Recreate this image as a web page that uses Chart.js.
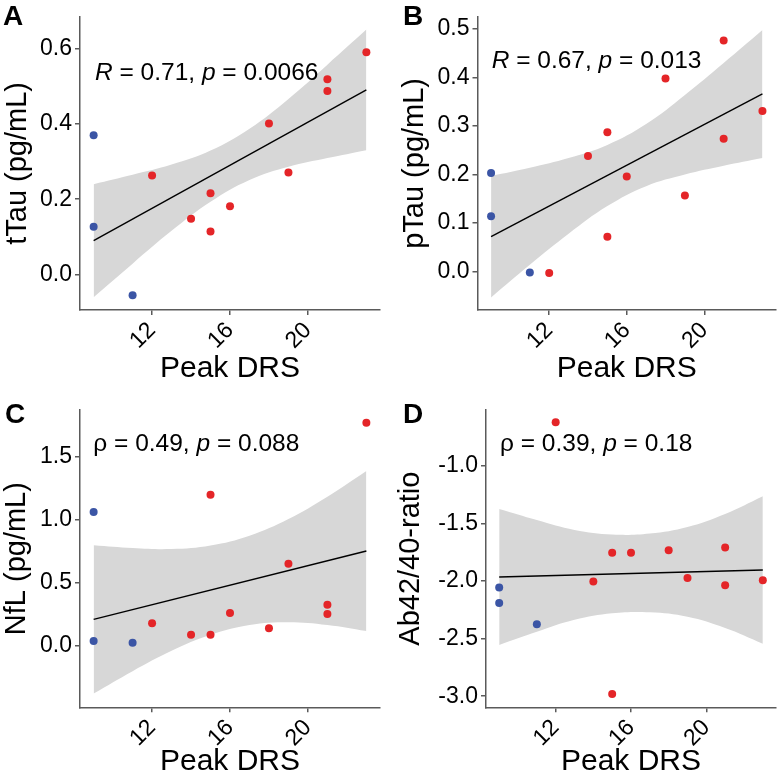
<!DOCTYPE html>
<html>
<head>
<meta charset="utf-8">
<title>Peak DRS correlations</title>
<script src="https://cdn.jsdelivr.net/npm/chart.js@4.4.1/dist/chart.umd.min.js"></script>
<style>
  html, body { margin: 0; padding: 0; background: #fff; }
  .panel { position: absolute; width: 390px; }
</style>
</head>
<body>
<div class="panel" style="left:0;top:0;height:390px"><canvas id="chartA"></canvas></div>
<div class="panel" style="left:390px;top:0;height:390px"><canvas id="chartB"></canvas></div>
<div class="panel" style="left:0;top:390px;height:393px"><canvas id="chartC"></canvas></div>
<div class="panel" style="left:390px;top:390px;height:393px"><canvas id="chartD"></canvas></div>
<script>
// peak DRS per subject, same for all four panels
const drs = [9, 9, 11, 12, 14, 15, 15, 16, 18, 19, 21, 21, 23];
const groups = ['ctrl', 'ctrl', 'ctrl', 'case', 'case', 'case', 'case', 'case', 'case', 'case', 'case', 'case', 'case'];
const drsTicks = [12, 16, 20];
const xRange = [8.3, 23.7];

// biomarker values
const tTau = [0.370, 0.127, -0.055, 0.263, 0.148, 0.216, 0.114, 0.181, 0.401, 0.271, 0.518, 0.487, 0.590];
const pTau = [0.203, 0.114, -0.002, -0.003, 0.238, 0.287, 0.072, 0.196, 0.398, 0.157, 0.476, 0.274, 0.331];
const nfl = [1.063, 0.037, 0.024, 0.178, 0.087, 1.200, 0.087, 0.260, 0.138, 0.652, 0.326, 0.252, 1.773];
const abRatio = [-2.056, -2.190, -2.375, -0.621, -2.004, -1.753, -2.980, -1.753, -1.732, -1.973, -1.709, -2.036, -1.993];

// fitted line ends and confidence band edges
const fitX = [9, 23];
const tTauFit = [0.090, 0.490];
const pTauFit = [0.072, 0.366];
const nflFit = [0.209, 0.753];
const abFit = [-1.964, -1.903];

const bandX = [9, 11, 13, 15, 17, 19, 21, 23];
const tTauUpper = [0.240, 0.265, 0.292, 0.329, 0.387, 0.466, 0.557, 0.650];
const tTauLower = [-0.060, 0.029, 0.116, 0.193, 0.251, 0.286, 0.309, 0.330];
const pTauUpper = [0.197, 0.214, 0.234, 0.261, 0.304, 0.364, 0.430, 0.498];
const pTauLower = [-0.053, 0.014, 0.078, 0.135, 0.176, 0.200, 0.218, 0.234];
const nflUpper = [0.799, 0.777, 0.769, 0.797, 0.875, 1.007, 1.185, 1.389];
const nflLower = [-0.381, -0.203, -0.041, 0.087, 0.165, 0.187, 0.165, 0.117];
const abUpper = [-1.374, -1.470, -1.556, -1.596, -1.587, -1.530, -1.417, -1.263];
const abLower = [-2.554, -2.440, -2.336, -2.280, -2.271, -2.310, -2.407, -2.543];

// y tick labels
const tTauTicks = [0.0, 0.2, 0.4, 0.6];
const pTauTicks = [0.0, 0.1, 0.2, 0.3, 0.4, 0.5];
const nflTicks = [0.0, 0.5, 1.0, 1.5];
const abTicks = [-3.0, -2.5, -2.0, -1.5, -1.0];

const blue = '#3B55A5';
const red = '#E42528';
const bandColor = '#D7D7D7';
const axisColor = '#5A5A5A';
const fontFamily = '"Liberation Sans", Arial, Helvetica, sans-serif';

Chart.defaults.font.family = fontFamily;
Chart.defaults.color = '#000';

// panel letter + correlation text
const panelText = {
    id: 'panelText',
    afterDraw(chart, args, opts) {
        const ctx = chart.ctx;
        const area = chart.chartArea;
        ctx.save();
        ctx.fillStyle = '#000';
        ctx.textBaseline = 'alphabetic';
        ctx.textAlign = 'left';
        ctx.font = 'bold 28px ' + fontFamily;
        ctx.fillText(opts.letter, opts.letterPos[0], opts.letterPos[1]);
        let x = area.left + opts.textPos[0];
        const y = area.top + opts.textPos[1];
        opts.parts.forEach(part => {
            ctx.font = (part.italic ? 'italic ' : '') + '24.5px ' + fontFamily;
            ctx.fillText(part.text, x, y);
            x += ctx.measureText(part.text).width;
        });
        ctx.restore();
    }
};

function toPoints(xs, ys) {
    return xs.map((x, i) => ({ x: x, y: ys[i] }));
}

function buildPanel(canvasId, p) {
    return new Chart(document.getElementById(canvasId), {
        type: 'scatter',
        data: {
            datasets: [
                {
                    data: toPoints(drs, p.values),
                    pointRadius: 4,
                    pointBorderWidth: 0,
                    pointBackgroundColor: groups.map(g => g === 'ctrl' ? blue : red),
                    order: 0
                },
                {
                    data: toPoints(fitX, p.fit),
                    showLine: true,
                    borderColor: '#000',
                    borderWidth: 1.4,
                    pointRadius: 0,
                    order: 1
                },
                {
                    data: toPoints(bandX, p.upper),
                    showLine: true,
                    borderWidth: 0,
                    borderColor: 'rgba(0,0,0,0)',
                    pointRadius: 0,
                    tension: 0.4,
                    fill: '+1',
                    backgroundColor: bandColor,
                    order: 2
                },
                {
                    data: toPoints(bandX, p.lower),
                    showLine: true,
                    borderWidth: 0,
                    borderColor: 'rgba(0,0,0,0)',
                    pointRadius: 0,
                    tension: 0.4,
                    fill: false,
                    order: 3
                }
            ]
        },
        options: {
            responsive: true,
            maintainAspectRatio: false,
            animation: false,
            events: [],
            layout: { padding: { left: 0, right: p.padRight, top: p.padTop, bottom: 0 } },
            plugins: {
                legend: { display: false },
                tooltip: { enabled: false },
                panelText: { letter: p.letter, letterPos: p.letterPos, textPos: p.textPos, parts: p.parts }
            },
            scales: {
                x: {
                    type: 'linear',
                    min: xRange[0],
                    max: xRange[1],
                    afterBuildTicks: s => { s.ticks = drsTicks.map(v => ({ value: v })); },
                    afterFit: s => { s.height = p.xHeight; },
                    grid: { drawOnChartArea: false, drawTicks: true, tickLength: 5, color: axisColor, lineWidth: 1.5 },
                    border: { display: true, color: axisColor, width: 1.5 },
                    ticks: {
                        autoSkip: false, minRotation: 45, maxRotation: 45, padding: 2,
                        color: '#000', font: { size: 23 },
                        callback: v => String(v)
                    },
                    title: { display: true, text: 'Peak DRS', color: '#000', font: { size: 30 }, padding: { top: 0, bottom: 3 } }
                },
                y: {
                    type: 'linear',
                    min: p.yRange[0],
                    max: p.yRange[1],
                    afterBuildTicks: s => { s.ticks = p.yTicks.map(v => ({ value: v })); },
                    afterFit: s => { s.width = p.yWidth; },
                    grid: { drawOnChartArea: false, drawTicks: true, tickLength: 5, color: axisColor, lineWidth: 1.5 },
                    border: { display: true, color: axisColor, width: 1.5 },
                    ticks: {
                        autoSkip: false, padding: 3, color: '#000', font: { size: 23 },
                        callback: v => v.toFixed(1)
                    },
                    title: { display: true, text: p.yTitle, color: '#000', font: { size: 29 }, padding: { top: p.yTitlePad, bottom: 0 } }
                }
            }
        },
        plugins: [panelText]
    });
}

buildPanel('chartA', {
    letter: 'A', letterPos: [3, 25],
    values: tTau, fit: tTauFit, upper: tTauUpper, lower: tTauLower,
    yTicks: tTauTicks, yRange: [-0.094, 0.684], yTitle: 'tTau (pg/mL)', yTitlePad: 1,
    yWidth: 80, xHeight: 80, padTop: 12.7, padRight: 10,
    textPos: [15, 63.3],
    parts: [{ text: 'R', italic: true }, { text: ' = 0.71, ' }, { text: 'p', italic: true }, { text: ' = 0.0066' }]
});

buildPanel('chartB', {
    letter: 'B', letterPos: [13, 25],
    values: pTau, fit: pTauFit, upper: pTauUpper, lower: pTauLower,
    yTicks: pTauTicks, yRange: [-0.079, 0.525], yTitle: 'pTau (pg/mL)', yTitlePad: 8,
    yWidth: 87.5, xHeight: 80, padTop: 12.7, padRight: 2.5,
    textPos: [14.2, 51.6],
    parts: [{ text: 'R', italic: true }, { text: ' = 0.67, ' }, { text: 'p', italic: true }, { text: ' = 0.013' }]
});

buildPanel('chartC', {
    letter: 'C', letterPos: [5, 33],
    values: nfl, fit: nflFit, upper: nflUpper, lower: nflLower,
    yTicks: nflTicks, yRange: [-0.49, 1.874], yTitle: 'NfL (pg/mL)', yTitlePad: 0,
    yWidth: 80, xHeight: 75.7, padTop: 20, padRight: 10,
    textPos: [13.3, 41],
    parts: [{ text: 'ρ = 0.49, ' }, { text: 'p', italic: true }, { text: ' = 0.088' }]
});

buildPanel('chartD', {
    letter: 'D', letterPos: [13, 33],
    values: abRatio, fit: abFit, upper: abUpper, lower: abLower,
    yTicks: abTicks, yRange: [-3.096, -0.514], yTitle: 'Ab42/40-ratio', yTitlePad: 4,
    yWidth: 96, xHeight: 75.7, padTop: 20, padRight: 2,
    textPos: [14, 41],
    parts: [{ text: 'ρ = 0.39, ' }, { text: 'p', italic: true }, { text: ' = 0.18' }]
});
</script>
</body>
</html>
